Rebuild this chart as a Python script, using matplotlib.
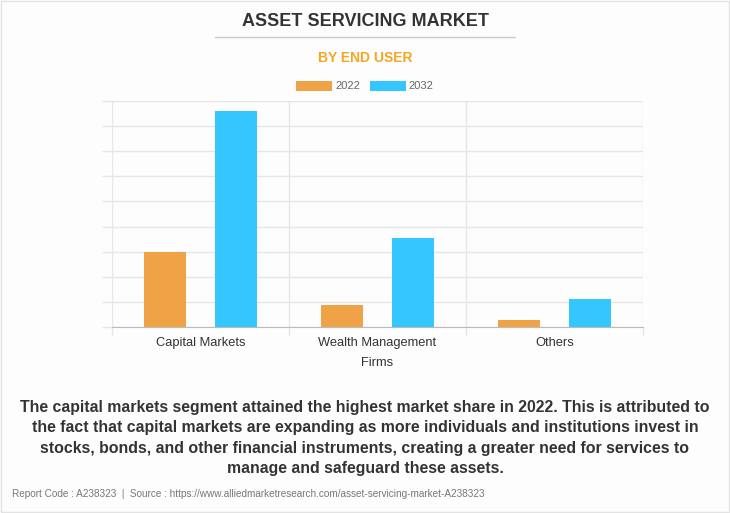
import matplotlib.pyplot as plt
from matplotlib.lines import Line2D
from matplotlib.patches import Rectangle
import numpy as np

plt.rcParams['font.family'] = ['Liberation Sans', 'DejaVu Sans']

# data (no axis values shown, so units are arbitrary)
categories = ['Capital Markets', 'Wealth Management\nFirms', 'Others']
years = ['2022', '2032']
values_2022 = [3.0, 0.88, 0.28]
values_2032 = [8.6, 3.53, 1.1]

orange = '#F0A346'
blue = '#33C6FF'
grid_c = '#E6E6E6'

fig = plt.figure(figsize=(7.3, 5.13), dpi=100)
fig.patch.set_facecolor('#FDFDFD')
fig.patches.append(Rectangle((0.001, 0.001), 0.998, 0.998, transform=fig.transFigure,
                             fill=False, edgecolor='#E3E3E3', lw=1))

ax = fig.add_axes([112/730, 1 - 327/513, 531/730, 226/513])
ax.set_facecolor('#FDFDFD')

index = np.arange(len(categories))
bar_width = 0.24
ax.bar(index - 0.2, values_2022, bar_width, color=orange, label=years[0], zorder=3)
ax.bar(index + 0.2, values_2032, bar_width, color=blue, label=years[1], zorder=3)

ax.set_xlim(-0.5, len(categories) - 0.5)
ax.set_ylim(0, 9)
ax.set_yticks(np.arange(0, 10, 1))
ax.set_yticklabels([])
ax.set_xticks(index)
ax.set_xticklabels(categories, fontsize=9.3, color='#333333', linespacing=1.95)
ax.set_xticks(np.arange(-0.5, len(categories), 1), minor=True)

ax.tick_params(axis='x', which='major', length=0, pad=7)
ax.tick_params(axis='x', which='minor', length=6, color=grid_c, width=1)
ax.tick_params(axis='y', which='major', length=7.2, color=grid_c, width=1)

ax.grid(axis='y', color=grid_c, lw=1, zorder=0)
ax.grid(axis='x', which='minor', color=grid_c, lw=1, zorder=0)
for s in ['top', 'right', 'left']:
    ax.spines[s].set_visible(False)
ax.spines['bottom'].set_color('#BBBBBB')
ax.spines['bottom'].set_zorder(4)

# titles
fig.text(0.5, 1 - 21/513, 'ASSET SERVICING MARKET', ha='center', va='center',
         fontsize=13, fontweight='bold', color='#333333')
fig.add_artist(Line2D([215/730, 515/730], [1 - 37/513, 1 - 37/513], color='#CCCCCC', lw=1))
fig.text(0.5, 1 - 58/513, 'BY END USER', ha='center', va='center',
         fontsize=10, fontweight='bold', color='#F5A623')

# legend
leg = fig.legend(loc='center', bbox_to_anchor=(0.5, 1 - 86/513), ncol=2, frameon=False,
                 fontsize=8, handlelength=3.2, handleheight=1.0, columnspacing=0.9,
                 handletextpad=0.3)
for t in leg.get_texts():
    t.set_color('#666666')

para = ('The capital markets segment attained the highest market share in 2022. This is attributed to\n'
        'the fact that capital markets are expanding as more individuals and institutions invest in\n'
        'stocks, bonds, and other financial instruments, creating a greater need for services to\n'
        'manage and safeguard these assets.')
fig.text(0.5, 1 - 438/513, para, ha='center', va='center', fontsize=11.4, fontweight='bold',
         color='#333333', linespacing=1.43)

fig.text(12/730, 1 - 494/513,
         'Report Code : A238323  |  Source : https://www.alliedmarketresearch.com/asset-servicing-market-A238323',
         ha='left', va='center', fontsize=7.2, color='#777777')

plt.savefig('out.png', dpi=100, facecolor=fig.get_facecolor())
